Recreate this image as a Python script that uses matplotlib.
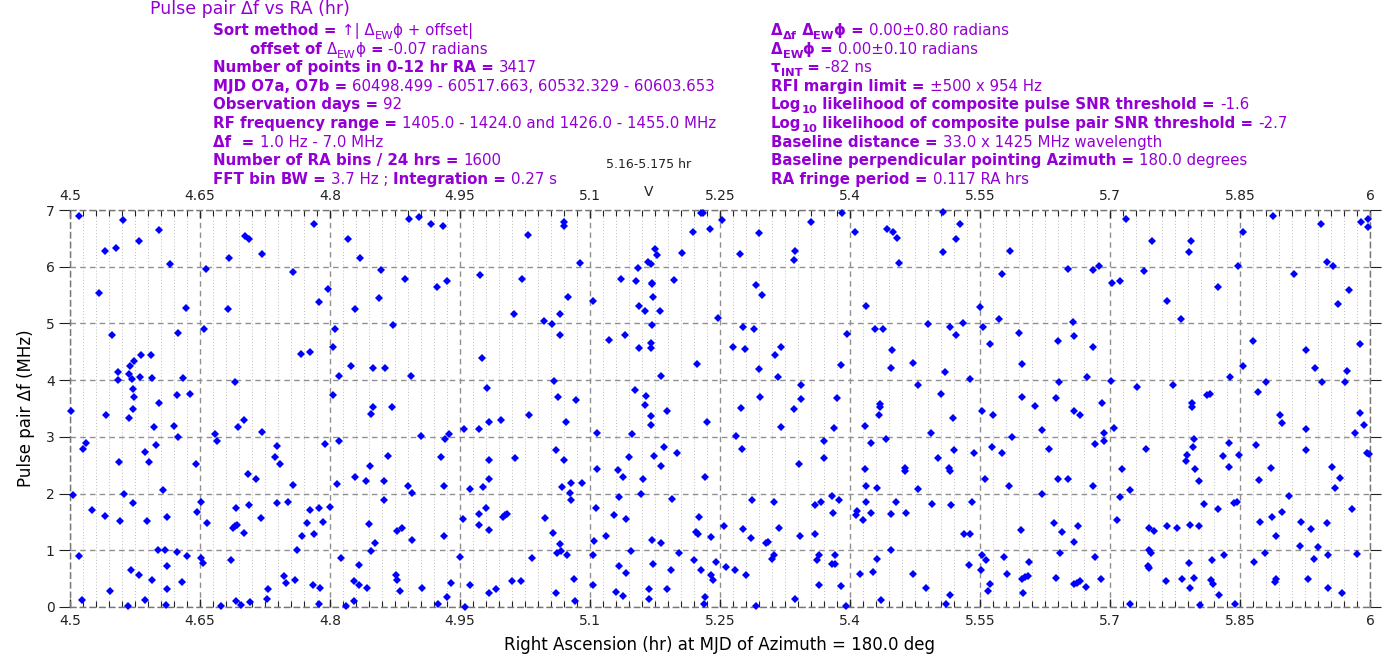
import matplotlib
matplotlib.use("Agg")
import matplotlib.pyplot as plt
import numpy as np
from matplotlib.ticker import MultipleLocator, FixedLocator

# ---------------- data (RA hr, pulse pair delta f MHz) ----------------
seg_450_468 = [(4.510,6.90),(4.561,6.82),(4.603,6.64),(4.580,6.45),(4.553,6.33),(4.540,6.28),(4.683,6.16),(4.615,6.05),(4.657,5.96),(4.533,5.53),(4.634,5.28),(4.682,5.25),(4.655,4.91),(4.625,4.84),(4.548,4.79),(4.582,4.44),(4.594,4.44),(4.574,4.34),(4.569,4.25),(4.555,4.14),(4.568,4.11),(4.581,4.06),(4.572,4.02),(4.555,4.00),(4.595,4.04),(4.630,4.04),(4.573,3.84),(4.624,3.73),(4.638,3.75),(4.574,3.71),(4.603,3.59),(4.573,3.49),(4.501,3.46),(4.542,3.38),(4.568,3.34),(4.597,3.18),(4.620,3.19),(4.667,3.05),(4.625,2.99),(4.670,2.93),(4.518,2.89),(4.515,2.79),(4.599,2.85),(4.587,2.74),(4.557,2.55),(4.591,2.55),(4.645,2.53),(4.607,2.06),(4.503,1.98),(4.562,2.00),(4.573,1.84),(4.651,1.86),(4.647,1.68),(4.525,1.71),(4.540,1.60),(4.612,1.59),(4.558,1.51),(4.589,1.52),(4.658,1.48),(4.602,1.00),(4.610,1.00),(4.624,0.97),(4.510,0.90),(4.635,0.90),(4.651,0.86),(4.654,0.77),(4.612,0.73),(4.570,0.65),(4.580,0.57),(4.595,0.48),(4.629,0.44),(4.546,0.28),(4.612,0.31),(4.514,0.12),(4.587,0.12),(4.567,0.02),(4.611,0.04),(4.674,0.01)]
seg_468_487 = [(4.782,6.76),(4.702,6.55),(4.706,6.49),(4.821,6.49),(4.721,6.22),(4.835,6.15),(4.757,5.91),(4.859,5.95),(4.798,5.61),(4.787,5.38),(4.856,5.44),(4.829,5.25),(4.873,4.98),(4.806,4.91),(4.767,4.46),(4.777,4.50),(4.803,4.58),(4.824,4.25),(4.850,4.22),(4.864,4.22),(4.810,4.08),(4.690,3.96),(4.804,3.74),(4.850,3.52),(4.847,3.41),(4.872,3.52),(4.701,3.29),(4.694,3.18),(4.721,3.09),(4.810,2.93),(4.794,2.88),(4.739,2.84),(4.737,2.65),(4.742,2.53),(4.867,2.66),(4.846,2.49),(4.705,2.35),(4.715,2.25),(4.829,2.29),(4.841,2.22),(4.862,2.22),(4.808,2.17),(4.757,2.15),(4.862,1.88),(4.739,1.83),(4.751,1.86),(4.692,1.75),(4.706,1.80),(4.777,1.71),(4.787,1.75),(4.800,1.77),(4.720,1.57),(4.773,1.48),(4.792,1.49),(4.845,1.46),(4.688,1.39),(4.690,1.42),(4.693,1.44),(4.701,1.31),(4.768,1.25),(4.782,1.28),(4.852,1.12),(4.762,1.01),(4.847,0.98),(4.686,0.82),(4.813,0.86),(4.833,0.74),(4.747,0.55),(4.749,0.43),(4.760,0.48),(4.780,0.39),(4.788,0.34),(4.828,0.45),(4.834,0.39),(4.843,0.34),(4.729,0.31),(4.727,0.14),(4.692,0.11),(4.697,0.04),(4.708,0.08),(4.787,0.06),(4.819,0.02),(4.828,0.11)]
seg_487_506 = [(4.891,6.85),(4.903,6.88),(4.917,6.75),(4.930,6.71),(5.028,6.56),(4.886,5.79),(4.923,5.64),(4.935,5.74),(4.973,5.85),(5.022,5.79),(5.012,5.17),(5.047,5.05),(5.056,4.99),(5.065,5.16),(5.065,4.79),(4.975,4.39),(4.894,4.08),(4.981,3.86),(5.059,3.99),(5.063,3.70),(5.030,3.38),(4.983,3.26),(4.997,3.29),(4.955,3.14),(4.972,3.13),(4.905,3.02),(4.937,3.05),(4.933,2.97),(4.928,2.64),(4.983,2.59),(5.014,2.62),(5.061,2.76),(4.983,2.25),(4.890,2.13),(4.895,2.01),(4.932,2.13),(4.962,2.08),(4.977,2.11),(4.980,1.74),(4.972,1.64),(4.954,1.56),(5.000,1.59),(5.002,1.62),(5.004,1.64),(5.048,1.57),(4.877,1.34),(4.883,1.39),(4.972,1.45),(4.983,1.35),(4.931,1.25),(4.895,1.19),(5.057,1.31),(5.065,1.11),(5.062,0.95),(4.950,0.88),(5.033,0.86),(4.876,0.56),(4.877,0.48),(4.881,0.28),(4.906,0.34),(4.940,0.42),(4.962,0.39),(4.983,0.25),(4.992,0.31),(5.010,0.45),(5.020,0.46),(5.061,0.24),(4.935,0.18),(4.925,0.06),(4.956,0.00)]
seg_506_525 = [(5.070,6.78),(5.070,6.72),(5.228,6.95),(5.230,6.95),(5.252,6.83),(5.238,6.67),(5.219,6.61),(5.175,6.32),(5.177,6.21),(5.206,6.25),(5.089,6.06),(5.167,6.08),(5.170,6.05),(5.155,5.98),(5.136,5.79),(5.153,5.74),(5.172,5.72),(5.172,5.69),(5.197,5.77),(5.075,5.46),(5.104,5.39),(5.173,5.46),(5.156,5.31),(5.164,5.22),(5.181,5.22),(5.248,5.09),(5.171,4.97),(5.140,4.80),(5.122,4.71),(5.156,4.57),(5.170,4.65),(5.170,4.56),(5.223,4.28),(5.182,4.08),(5.152,3.82),(5.165,3.72),(5.084,3.65),(5.164,3.56),(5.189,3.46),(5.170,3.36),(5.170,3.21),(5.072,3.26),(5.235,3.26),(5.108,3.07),(5.148,3.05),(5.070,2.60),(5.185,2.82),(5.200,2.71),(5.174,2.66),(5.145,2.65),(5.182,2.48),(5.108,2.44),(5.132,2.42),(5.138,2.29),(5.161,2.25),(5.233,2.29),(5.078,2.19),(5.091,2.18),(5.068,2.12),(5.077,2.01),(5.078,1.88),(5.134,1.94),(5.159,1.99),(5.195,1.91),(5.107,1.74),(5.128,1.62),(5.142,1.55),(5.226,1.59),(5.255,1.43),(5.222,1.32),(5.225,1.29),(5.240,1.24),(5.118,1.26),(5.105,1.17),(5.172,1.19),(5.182,1.12),(5.067,0.99),(5.074,0.91),(5.104,0.91),(5.147,0.98),(5.203,0.96),(5.220,0.82),(5.245,0.79),(5.133,0.72),(5.173,0.75),(5.194,0.66),(5.228,0.66),(5.142,0.60),(5.240,0.57),(5.242,0.48),(5.081,0.49),(5.104,0.39),(5.189,0.32),(5.168,0.32),(5.130,0.26),(5.138,0.20),(5.168,0.14),(5.083,0.11),(5.233,0.18),(5.231,0.06)]
seg_525_544 = [(5.295,6.59),(5.355,6.78),(5.391,6.95),(5.406,6.62),(5.443,6.66),(5.273,6.22),(5.337,6.28),(5.335,6.11),(5.291,5.67),(5.299,5.51),(5.418,5.30),(5.276,4.94),(5.289,4.91),(5.397,4.82),(5.429,4.90),(5.438,4.90),(5.265,4.59),(5.279,4.55),(5.320,4.59),(5.314,4.45),(5.390,4.26),(5.295,4.19),(5.317,4.06),(5.343,3.91),(5.296,3.70),(5.343,3.66),(5.385,3.68),(5.274,3.51),(5.335,3.49),(5.435,3.58),(5.435,3.52),(5.433,3.38),(5.320,3.18),(5.382,3.15),(5.417,3.19),(5.269,3.02),(5.275,2.79),(5.370,2.92),(5.424,2.89),(5.441,2.97),(5.341,2.52),(5.370,2.63),(5.417,2.44),(5.418,2.14),(5.431,2.09),(5.287,1.88),(5.312,1.86),(5.360,1.80),(5.367,1.86),(5.379,1.96),(5.387,1.88),(5.380,1.65),(5.418,1.85),(5.408,1.69),(5.407,1.62),(5.415,1.54),(5.424,1.65),(5.276,1.37),(5.286,1.22),(5.318,1.40),(5.303,1.12),(5.305,1.14),(5.342,1.26),(5.360,1.28),(5.312,0.92),(5.310,0.85),(5.364,0.91),(5.362,0.83),(5.383,0.92),(5.379,0.76),(5.383,0.76),(5.431,0.85),(5.257,0.70),(5.267,0.65),(5.280,0.56),(5.411,0.59),(5.426,0.62),(5.364,0.39),(5.390,0.37),(5.337,0.14),(5.436,0.12),(5.291,0.02),(5.395,0.02)]
seg_544_563 = [(5.507,6.96),(5.450,6.61),(5.454,6.50),(5.527,6.76),(5.522,6.48),(5.507,6.26),(5.585,6.28),(5.457,6.06),(5.575,5.88),(5.550,5.29),(5.572,5.08),(5.490,4.99),(5.515,4.93),(5.530,5.01),(5.554,4.93),(5.522,4.80),(5.595,4.84),(5.562,4.64),(5.449,4.54),(5.447,4.22),(5.473,4.31),(5.510,4.14),(5.598,4.29),(5.539,4.02),(5.479,3.92),(5.505,3.75),(5.599,3.71),(5.613,3.54),(5.552,3.45),(5.565,3.38),(5.519,3.34),(5.622,3.12),(5.494,3.06),(5.587,2.99),(5.564,2.82),(5.520,2.76),(5.543,2.71),(5.575,2.71),(5.630,2.79),(5.502,2.62),(5.464,2.45),(5.463,2.40),(5.514,2.45),(5.515,2.39),(5.556,2.26),(5.584,2.13),(5.478,2.08),(5.621,1.99),(5.453,1.86),(5.447,1.64),(5.465,1.66),(5.495,1.82),(5.516,1.80),(5.541,1.85),(5.635,1.48),(5.531,1.28),(5.538,1.28),(5.597,1.35),(5.447,1.00),(5.552,0.91),(5.557,0.82),(5.578,0.89),(5.606,0.80),(5.537,0.74),(5.551,0.66),(5.473,0.58),(5.581,0.59),(5.599,0.50),(5.602,0.53),(5.605,0.55),(5.562,0.41),(5.559,0.29),(5.488,0.34),(5.600,0.25),(5.515,0.21),(5.511,0.05)]
seg_563_582 = [(5.719,6.85),(5.748,6.45),(5.794,6.45),(5.791,6.26),(5.651,5.96),(5.680,5.94),(5.687,6.02),(5.739,5.92),(5.702,5.71),(5.712,5.75),(5.825,5.65),(5.766,5.40),(5.782,5.08),(5.657,5.03),(5.640,4.69),(5.658,4.78),(5.680,4.58),(5.673,4.05),(5.701,3.99),(5.641,3.97),(5.731,3.88),(5.773,3.91),(5.638,3.68),(5.691,3.59),(5.658,3.46),(5.665,3.38),(5.795,3.59),(5.795,3.53),(5.812,3.74),(5.815,3.76),(5.705,3.16),(5.693,3.07),(5.683,2.87),(5.693,2.92),(5.742,2.79),(5.797,2.97),(5.796,2.82),(5.789,2.68),(5.788,2.57),(5.798,2.43),(5.803,2.23),(5.714,2.44),(5.640,2.25),(5.652,2.25),(5.680,2.14),(5.723,2.06),(5.711,1.94),(5.809,1.81),(5.825,1.72),(5.708,1.54),(5.645,1.32),(5.663,1.43),(5.745,1.40),(5.751,1.34),(5.766,1.42),(5.777,1.39),(5.792,1.44),(5.803,1.43),(5.659,1.14),(5.642,0.96),(5.745,1.00),(5.747,0.95),(5.683,0.89),(5.744,0.73),(5.745,0.68),(5.791,0.77),(5.818,0.83),(5.638,0.52),(5.658,0.41),(5.662,0.43),(5.665,0.46),(5.672,0.35),(5.690,0.49),(5.765,0.46),(5.783,0.49),(5.797,0.52),(5.817,0.48),(5.819,0.41),(5.792,0.34),(5.826,0.21),(5.723,0.06),(5.804,0.04)]
seg_582_600 = [(5.888,6.90),(5.853,6.61),(5.944,6.75),(5.990,6.79),(5.998,6.85),(5.998,6.70),(5.848,6.02),(5.950,6.08),(5.957,6.02),(5.912,5.87),(5.976,5.59),(5.963,5.35),(5.865,4.69),(5.926,4.54),(5.989,4.64),(5.854,4.25),(5.936,4.22),(5.974,4.16),(5.838,4.05),(5.880,3.97),(5.945,3.97),(5.971,3.97),(5.871,3.79),(5.896,3.39),(5.898,3.24),(5.926,3.14),(5.988,3.42),(5.993,3.21),(5.983,3.06),(5.837,2.89),(5.868,2.85),(5.830,2.66),(5.849,2.68),(5.837,2.46),(5.886,2.45),(5.926,2.76),(5.956,2.46),(5.965,2.28),(5.960,2.09),(5.872,2.24),(5.997,2.72),(5.999,2.70),(5.843,1.83),(5.846,1.85),(5.907,1.95),(5.979,1.72),(5.873,1.49),(5.887,1.59),(5.899,1.68),(5.920,1.49),(5.932,1.37),(5.950,1.48),(5.892,1.26),(5.919,1.08),(5.940,1.05),(5.831,0.92),(5.879,0.95),(5.952,0.91),(5.985,0.94),(5.866,0.79),(5.935,0.85),(5.890,0.44),(5.892,0.49),(5.929,0.49),(5.952,0.34),(5.968,0.25),(5.844,0.05)]

x_ticks = [4.5, 4.65, 4.8, 4.95, 5.1, 5.25, 5.4, 5.55, 5.7, 5.85, 6.0]
x_tick_labels = ["4.5", "4.65", "4.8", "4.95", "5.1", "5.25", "5.4", "5.55", "5.7", "5.85", "6"]
y_ticks = [0, 1, 2, 3, 4, 5, 6, 7]
marker_ra = 5.1675
marker_label = "5.16-5.175 hr"

segments = [seg_450_468, seg_468_487, seg_487_506, seg_506_525,
            seg_525_544, seg_544_563, seg_563_582, seg_582_600]
pts = np.array([p for s in segments for p in s])
ra_hr = pts[:, 0]
df_mhz = pts[:, 1]

# ---------------- figure ----------------
W, H = 1392, 659
fig = plt.figure(figsize=(W / 100, H / 100), dpi=100)
ax = fig.add_axes([70 / W, (H - 607) / H, 1300 / W, 397 / H])

ax.plot(ra_hr, df_mhz, linestyle="none", marker="D", markersize=3.6,
        color="#0000ff", markeredgewidth=0, clip_on=False, zorder=3)

ax.set_xlim(4.5, 6.0)
ax.set_ylim(0, 7)
ax.xaxis.set_major_locator(FixedLocator(x_ticks))
ax.set_xticklabels(x_tick_labels)
ax.xaxis.set_minor_locator(MultipleLocator(0.015))
ax.set_yticks(y_ticks)

ax.grid(True, which="major", axis="x", color="#909090", linestyle=(0, (4, 3)), linewidth=1.0)
ax.grid(True, which="minor", axis="x", color="#bdbdbd", linestyle=(0, (1.0, 2.2)), linewidth=0.7)
ax.grid(True, which="major", axis="y", color="#909090", linestyle=(0, (4, 3)), linewidth=1.0)

ax.tick_params(axis="x", which="both", direction="in", top=True, labeltop=True,
               labelsize=10, colors="#222222", pad=5)
ax.tick_params(axis="x", which="major", length=6, width=1)
ax.tick_params(axis="x", which="minor", length=4, width=0.8)
ax.tick_params(axis="y", which="major", direction="out", left=True, right=True,
               length=8, labelsize=10, colors="#222222", pad=3)
for sp in ax.spines.values():
    sp.set_color("#777777")
    sp.set_linewidth(1.0)
    sp.set_linestyle((0, (4, 3)))

ax.set_xlabel("Right Ascension (hr) at MJD of Azimuth = 180.0 deg", fontsize=12, labelpad=6)
ax.set_ylabel("Pulse pair \u0394f (MHz)", fontsize=12, labelpad=8)

# marker at top
ax.annotate("V", xy=(marker_ra, 7), xycoords="data", xytext=(0, 8), textcoords="offset points",
            ha="center", va="bottom", fontsize=10, color="#222222", annotation_clip=False)
ax.annotate(marker_label, xy=(marker_ra, 7), xycoords="data", xytext=(0, 28), textcoords="offset points",
            ha="center", va="bottom", fontsize=9, color="#222222", annotation_clip=False)

# ---------------- header text ----------------
PURPLE = "#9400d3"
renderer = fig.canvas.get_renderer()

def text_width(s, size, weight):
    t1 = fig.text(0, 0, s + "|", fontsize=size, fontweight=weight)
    t2 = fig.text(0, 0, "|", fontsize=size, fontweight=weight)
    w = t1.get_window_extent(renderer).width - t2.get_window_extent(renderer).width
    t1.remove(); t2.remove()
    return w

def draw_line(x_px, base_px, segs, fs=10.85):
    x = x_px
    for s, bold, sub in segs:
        size = fs * 0.76 if sub else fs
        y = base_px + (4 if sub else 0)
        weight = "bold" if bold else "normal"
        fig.text(x / W, 1 - y / H, s, fontsize=size, fontweight=weight,
                 color=PURPLE, va="baseline", ha="left")
        x += text_width(s, size, weight)

fig.text(150 / W, 1 - 14 / H, "Pulse pair \u0394f vs RA (hr)", fontsize=12.5,
         color=PURPLE, va="baseline", ha="left")

left_lines = [
    (213, [("Sort method = ", True, False), ("\u2191| \u0394", False, False), ("EW", False, True),
           ("\u03d5 + offset|", False, False)]),
    (250, [("offset of ", True, False), ("\u0394", False, False), ("EW", False, True),
           ("\u03d5 ", False, False), ("= ", True, False), ("-0.07 radians", False, False)]),
    (213, [("Number of points in 0-12 hr RA = ", True, False), ("3417", False, False)]),
    (213, [("MJD O7a, O7b = ", True, False), ("60498.499 - 60517.663, 60532.329 - 60603.653", False, False)]),
    (213, [("Observation days = ", True, False), ("92", False, False)]),
    (213, [("RF frequency range = ", True, False), ("1405.0 - 1424.0 and 1426.0 - 1455.0 MHz", False, False)]),
    (213, [("\u0394f  = ", True, False), ("1.0 Hz - 7.0 MHz", False, False)]),
    (213, [("Number of RA bins / 24 hrs = ", True, False), ("1600", False, False)]),
    (213, [("FFT bin BW = ", True, False), ("3.7 Hz ; ", False, False), ("Integration = ", True, False),
           ("0.27 s", False, False)]),
]
right_lines = [
    [("\u0394", True, False), ("\u0394f", True, True), (" \u0394", True, False), ("EW", True, True),
     ("\u03d5 = ", True, False), ("0.00\u00b10.80 radians", False, False)],
    [("\u0394", True, False), ("EW", True, True), ("\u03d5 = ", True, False), ("0.00\u00b10.10 radians", False, False)],
    [("\u03c4", True, False), ("INT", True, True), (" = ", True, False), ("-82 ns", False, False)],
    [("RFI margin limit = ", True, False), ("\u00b1500 x 954 Hz", False, False)],
    [("Log", True, False), ("10", True, True), (" likelihood of composite pulse SNR threshold = ", True, False),
     ("-1.6", False, False)],
    [("Log", True, False), ("10", True, True), (" likelihood of composite pulse pair SNR threshold = ", True, False),
     ("-2.7", False, False)],
    [("Baseline distance = ", True, False), ("33.0 x 1425 MHz wavelength", False, False)],
    [("Baseline perpendicular pointing Azimuth = ", True, False), ("180.0 degrees", False, False)],
    [("RA fringe period = ", True, False), ("0.117 RA hrs", False, False)],
]

base0, step = 35, 18.6
for i, (x0, segs) in enumerate(left_lines):
    draw_line(x0, base0 + i * step, segs)
for i, segs in enumerate(right_lines):
    draw_line(771, base0 + i * step, segs)

fig.savefig("out.png", dpi=100)
